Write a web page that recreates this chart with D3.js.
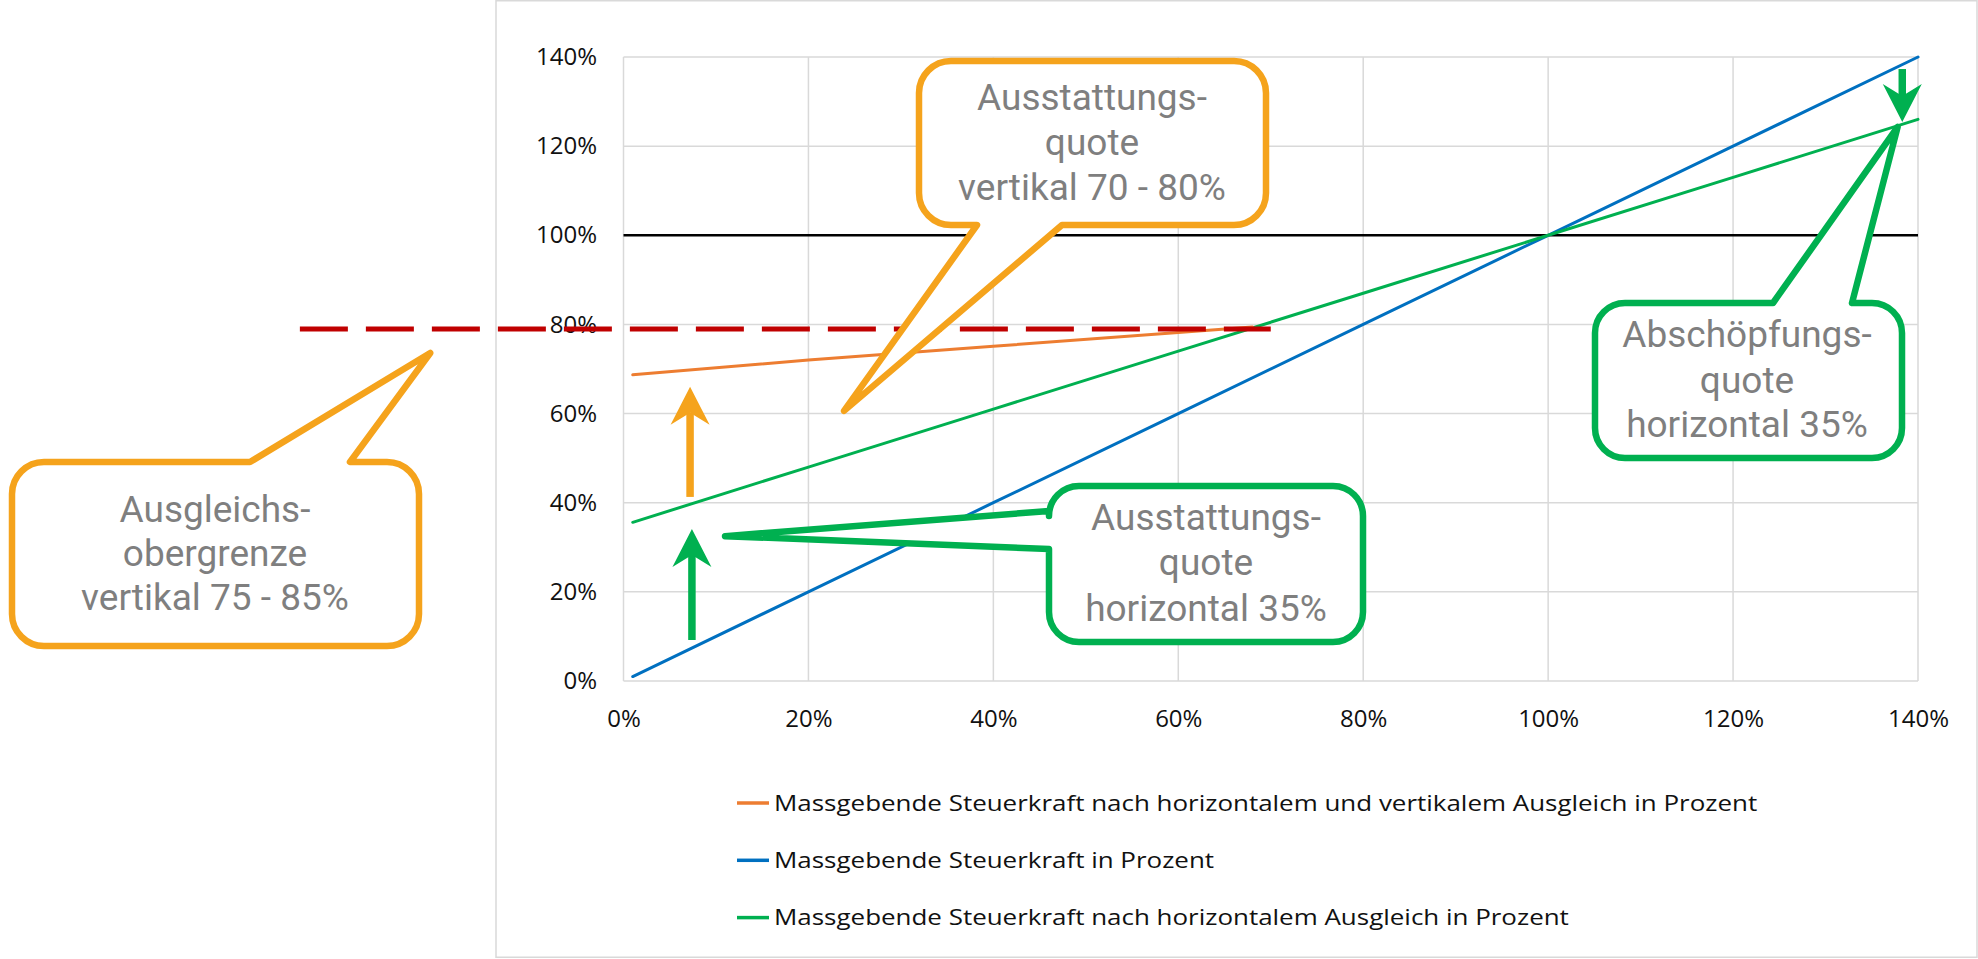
<!DOCTYPE html>
<html><head><meta charset="utf-8">
<script src="https://cdn.jsdelivr.net/npm/d3@7"></script>
<style>body{margin:0;background:#fff}svg{display:block}</style>
</head><body><svg id="c" width="1978" height="959"></svg>
<script>
// ---- data ----
const xTickValues = [0, 20, 40, 60, 80, 100, 120, 140];
const yTickValues = [0, 20, 40, 60, 80, 100, 120, 140];
const seriesNames = [
  "Massgebende Steuerkraft nach horizontalem und vertikalem Ausgleich in Prozent",
  "Massgebende Steuerkraft in Prozent",
  "Massgebende Steuerkraft nach horizontalem Ausgleich in Prozent"
];
const steuerkraftX = [1, 20, 40, 60, 80, 100, 120, 140];
const blueValues   = [1, 20, 40, 60, 80, 100, 120, 140];
const greenValues  = [35.6, 48, 61, 74, 87, 100, 113, 126];
const orangeX      = [1, 20, 40, 60, 68];
const orangeValues = [68.7, 72, 75.1, 78.2, 79.4];
const referenceLevel = 100;
const capLineX = [-35, 70];
const capLevel = 79;
// arrows: [x, from, to] in data units
const arrowOrange    = [7.2, 41.3, 66.0];
const arrowGreenUp   = [7.4, 9.2, 34.1];
const arrowGreenDown = [138.3, 137.3, 125.4];
// callout texts and tips (data units)
const calloutTexts = [
  ["Ausstattungs-", "quote", "vertikal 70 - 80%"],
  ["Abschöpfungs-", "quote", "horizontal 35%"],
  ["Ausstattungs-", "quote", "horizontal 35%"],
  ["Ausgleichs-", "obergrenze", "vertikal 75 - 85%"]
];
const calloutTips = [[23.85, 60.6], [137.8, 124.3], [10.98, 32.5], [-20.9, 73.6]];

// ---- layout ----
const C = {orange: "#ED7D31", blue: "#0070C0", green: "#00B050", red: "#C00000",
           calloutOrange: "#F5A31C", calloutGreen: "#00B050", grid: "#D9D9D9", text: "#7F7F7F"};
const svg = d3.select("#c");
const x = d3.scaleLinear().domain([0, 140]).range([623.5, 1918]);
const y = d3.scaleLinear().domain([0, 140]).range([681, 57]);

svg.append("rect").attr("width", 1978).attr("height", 959).attr("fill", "#fff");
svg.append("rect").attr("x", 496).attr("y", 0.75).attr("width", 1481).attr("height", 956.5)
  .attr("fill", "none").attr("stroke", C.grid).attr("stroke-width", 1.5);

// gridlines
svg.append("g").selectAll("line").data(yTickValues).join("line")
  .attr("x1", x(0)).attr("x2", x(140)).attr("y1", d => y(d)).attr("y2", d => y(d))
  .attr("stroke", C.grid).attr("stroke-width", 1.5);
svg.append("g").selectAll("line").data(xTickValues).join("line")
  .attr("y1", y(0)).attr("y2", y(140)).attr("x1", d => x(d)).attr("x2", d => x(d))
  .attr("stroke", C.grid).attr("stroke-width", 1.5);

// axes (labels only)
const fmt = d => d + "%";
const ax = svg.append("g").attr("transform", `translate(0,${y(0) + 38})`)
  .call(d3.axisBottom(x).tickValues(xTickValues).tickFormat(fmt).tickSize(0).tickPadding(0));
ax.select(".domain").remove();
ax.selectAll("text").attr("dy", "0.35em").attr("y", 0);
const ay = svg.append("g").attr("transform", `translate(597,0)`)
  .call(d3.axisLeft(y).tickValues(yTickValues).tickFormat(fmt).tickSize(0).tickPadding(0));
ay.select(".domain").remove();
svg.selectAll(".tick text").attr("font-family", "'Open Sans', sans-serif")
  .attr("font-size", 24).attr("fill", "#111");

// reference line 100%
svg.append("line").attr("x1", x(0)).attr("x2", x(140))
  .attr("y1", y(referenceLevel)).attr("y2", y(referenceLevel))
  .attr("stroke", "#000").attr("stroke-width", 2.5);

// series
const line = d3.line().x(d => x(d[0])).y(d => y(d[1]));
const mk = (xs, ys) => xs.map((v, i) => [v, ys[i]]);
const series = [
  {name: seriesNames[1], color: C.blue, pts: mk(steuerkraftX, blueValues)},
  {name: seriesNames[2], color: C.green, pts: mk(steuerkraftX, greenValues)},
  {name: seriesNames[0], color: C.orange, pts: mk(orangeX, orangeValues)}
];
svg.append("g").selectAll("path").data(series).join("path")
  .attr("d", d => line(d.pts)).attr("fill", "none")
  .attr("stroke", d => d.color).attr("stroke-width", 3).attr("stroke-linecap", "round");

// red dashed cap line
svg.append("line").attr("x1", x(capLineX[0])).attr("x2", x(capLineX[1]))
  .attr("y1", y(capLevel)).attr("y2", y(capLevel))
  .attr("stroke", C.red).attr("stroke-width", 5).attr("stroke-dasharray", "48 18");

// arrows
function arrow(a, color) {
  const px = x(a[0]), p0 = y(a[1]), p1 = y(a[2]);
  const dir = Math.sign(p1 - p0), L = 38, W = 39, N = 12;
  const g = svg.append("g");
  g.append("line").attr("x1", px).attr("x2", px).attr("y1", p0).attr("y2", p1 - dir * (L - N))
    .attr("stroke", color).attr("stroke-width", 7.5);
  g.append("path").attr("d",
    `M${px},${p1} L${px - W / 2},${p1 - dir * L} L${px},${p1 - dir * (L - N)} L${px + W / 2},${p1 - dir * L} Z`)
    .attr("fill", color);
}
arrow(arrowOrange, C.calloutOrange);
arrow(arrowGreenUp, C.calloutGreen);
arrow(arrowGreenDown, C.calloutGreen);

// callouts
function calloutPath(b, tip, side, a1, a2) {
  const {x0, y0, x1, y1, r} = b;
  const [tx, ty] = [x(tip[0]), y(tip[1])];
  let p = `M${x0 + r},${y0}`;
  if (side === "top") p += ` L${a1},${y0} L${tx},${ty} L${a2},${y0}`;
  p += ` L${x1 - r},${y0} A${r},${r} 0 0 1 ${x1},${y0 + r}`;
  p += ` L${x1},${y1 - r} A${r},${r} 0 0 1 ${x1 - r},${y1}`;
  if (side === "bottom") p += ` L${a2},${y1} L${tx},${ty} L${a1},${y1}`;
  p += ` L${x0 + r},${y1} A${r},${r} 0 0 1 ${x0},${y1 - r}`;
  if (side === "left") p += ` L${x0},${a2} L${tx},${ty} L${x0},${a1}`;
  p += ` L${x0},${y0 + r} A${r},${r} 0 0 1 ${x0 + r},${y0} Z`;
  return p;
}
const callouts = [
  {box: {x0: 919, y0: 61, x1: 1266, y1: 225, r: 32}, side: "bottom", a1: 977, a2: 1062,
   color: C.calloutOrange, cx: 1092, base: [110, 155, 200]},
  {box: {x0: 1595, y0: 303, x1: 1902, y1: 458, r: 30}, side: "top", a1: 1773, a2: 1852,
   color: C.calloutGreen, cx: 1747, base: [347, 393, 437]},
  {box: {x0: 1049, y0: 486, x1: 1363, y1: 642, r: 30}, side: "left", a1: 511, a2: 549,
   color: C.calloutGreen, cx: 1206, base: [530, 575, 621]},
  {box: {x0: 12, y0: 462, x1: 419, y1: 646, r: 32}, side: "top", a1: 250, a2: 350,
   color: C.calloutOrange, cx: 215, base: [522, 566, 610]}
];
callouts.forEach((c, i) => {
  svg.append("path").attr("d", calloutPath(c.box, calloutTips[i], c.side, c.a1, c.a2))
    .attr("fill", "#fff").attr("stroke", c.color).attr("stroke-width", 6.5)
    .attr("stroke-linejoin", "round");
  svg.append("g").selectAll("text").data(calloutTexts[i]).join("text")
    .attr("x", c.cx).attr("y", (d, j) => c.base[j]).attr("text-anchor", "middle")
    .attr("font-family", "Roboto, 'Open Sans', sans-serif").attr("font-weight", 400)
    .attr("font-size", 37).attr("fill", C.text).text(d => d);
});

// legend
const legendOrder = [
  {name: seriesNames[0], color: C.orange},
  {name: seriesNames[1], color: C.blue},
  {name: seriesNames[2], color: C.green}
];
const lg = svg.append("g").selectAll("g").data(legendOrder).join("g")
  .attr("transform", (d, i) => `translate(737,${803 + i * 57.3})`);
lg.append("line").attr("x1", 0).attr("x2", 32).attr("stroke", d => d.color).attr("stroke-width", 3.5);
lg.append("text").attr("transform", "translate(37,0) scale(1.18,1)").attr("dy", "0.35em")
  .attr("font-family", "'Open Sans', sans-serif").attr("font-size", 22).attr("fill", "#111")
  .text(d => d.name);
</script></body></html>
